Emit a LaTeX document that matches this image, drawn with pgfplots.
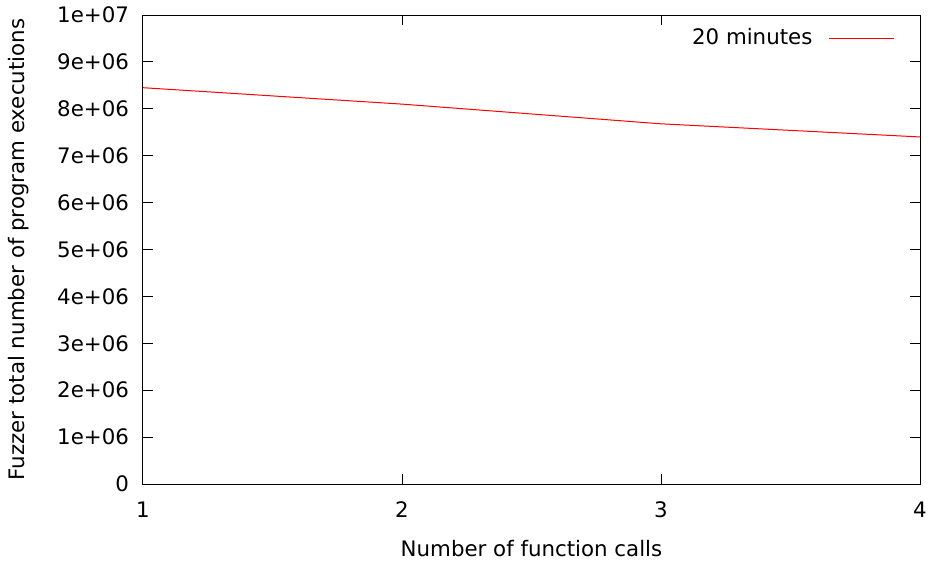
\documentclass[border=0pt]{standalone}
\usepackage{fontspec}
\setmainfont{DejaVu Sans}
\usepackage{pgfplots}
\pgfplotsset{compat=1.18}
\begin{document}
\fontsize{16pt}{19pt}\selectfont
\begin{tikzpicture}[x=0.75pt,y=0.75pt]
\begin{axis}[
  scale only axis,
  width=582.75pt, height=351.75pt,
  xmin=1, xmax=4, ymin=0, ymax=10000000,
  xtick={1,2,3,4},
  ytick={0,1000000,2000000,3000000,4000000,5000000,6000000,7000000,8000000,9000000,10000000},
  yticklabels={0,1e+06,2e+06,3e+06,4e+06,5e+06,6e+06,7e+06,8e+06,9e+06,1e+07},
  scaled y ticks=false,
  /pgf/number format/assume math mode=true,
  tick align=inside,
  major tick length=7.5pt,
  tick style={black, line width=0.75pt},
  axis line style={black, line width=0.75pt},
  every tick label/.append style={font=\fontsize{16pt}{19pt}\selectfont},
  yticklabel style={xshift=-5pt},
  xticklabel style={yshift=-8pt},
  xlabel={Number of function calls},
  ylabel={Fuzzer total number of program executions},
  label style={font=\fontsize{16pt}{19pt}\selectfont},
  xlabel style={yshift=-6pt},
  ylabel style={yshift=10pt},
  legend style={draw=none, fill=none, at={(1,1)}, anchor=north east, xshift=-16pt, yshift=-6pt,
    font=\fontsize{16pt}{19pt}\selectfont},
  legend plot pos=right,
  legend cell align=right,
]
\addplot[red, line width=0.75pt, legend image code/.code={\path (0pt,0pt); \draw[red, line width=0.75pt] (10pt,0pt) -- (58.75pt,0pt);}]
  coordinates {(1,8450000) (2,8100000) (3,7680000) (4,7400000)};
\addlegendentry{20 minutes}
\end{axis}
\pgfresetboundingbox
\useasboundingbox (-107.25pt,-58.5pt) rectangle (591pt,363pt);
\end{tikzpicture}
\end{document}
